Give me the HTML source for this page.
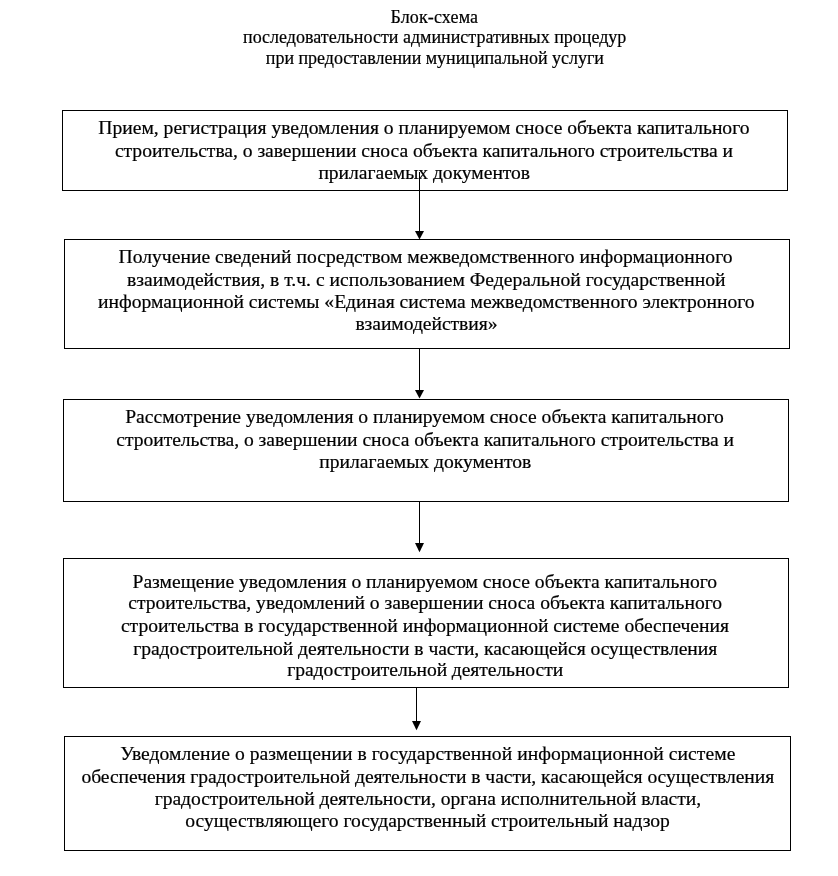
<!DOCTYPE html>
<html>
<head>
<meta charset="utf-8">
<style>
html,body{margin:0;padding:0;background:#fff;}
body{width:838px;height:876px;position:relative;overflow:hidden;filter:grayscale(1);font-family:"Liberation Serif",serif;color:#000;}
.l{position:absolute;white-space:nowrap;-webkit-text-stroke:0.2px #000;}
.box{position:absolute;border:1px solid #000;box-sizing:border-box;}
.ln{position:absolute;background:#000;width:1px;}
svg{position:absolute;left:0;top:0;}
</style>
</head>
<body>
<div class="l" style="left:390.44px;top:7px;font-size:18px;line-height:20px;letter-spacing:0.1397px">Блок-схема</div>
<div class="l" style="left:243.01px;top:27px;font-size:18px;line-height:20px;letter-spacing:0.0017px">последовательности административных процедур</div>
<div class="l" style="left:265.81px;top:48px;font-size:18px;line-height:20px;letter-spacing:-0.0270px">при предоставлении муниципальной услуги</div>
<div class="box" style="left:62px;top:110px;width:726px;height:81px"></div>
<div class="box" style="left:64px;top:239px;width:726px;height:110px"></div>
<div class="box" style="left:63px;top:399px;width:726px;height:103px"></div>
<div class="box" style="left:63px;top:558px;width:726px;height:130px"></div>
<div class="box" style="left:64px;top:736px;width:727px;height:115px"></div>
<div class="l" style="left:98.32px;top:117px;font-size:19.6px;line-height:22px;letter-spacing:-0.0070px">Прием, регистрация уведомления о планируемом сносе объекта капитального</div>
<div class="l" style="left:114.94px;top:140px;font-size:19.6px;line-height:22px;letter-spacing:-0.0324px">строительства, о завершении сноса объекта капитального строительства и</div>
<div class="l" style="left:318.40px;top:162px;font-size:19.6px;line-height:22px;letter-spacing:-0.0323px">прилагаемых документов</div>
<div class="l" style="left:118.52px;top:246px;font-size:19.6px;line-height:22px;letter-spacing:0.0104px">Получение сведений посредством межведомственного информационного</div>
<div class="l" style="left:127.00px;top:269px;font-size:19.6px;line-height:22px;letter-spacing:0.0166px">взаимодействия, в т.ч. с использованием Федеральной государственной</div>
<div class="l" style="left:98.10px;top:291px;font-size:19.6px;line-height:22px;letter-spacing:-0.0087px">информационной системы «Единая система межведомственного электронного</div>
<div class="l" style="left:355.40px;top:313px;font-size:19.6px;line-height:22px;letter-spacing:-0.0522px">взаимодействия»</div>
<div class="l" style="left:125.22px;top:406px;font-size:19.6px;line-height:22px;letter-spacing:-0.0100px">Рассмотрение уведомления о планируемом сносе объекта капитального</div>
<div class="l" style="left:116.24px;top:429px;font-size:19.6px;line-height:22px;letter-spacing:-0.0368px">строительства, о завершении сноса объекта капитального строительства и</div>
<div class="l" style="left:319.30px;top:451px;font-size:19.6px;line-height:22px;letter-spacing:-0.0180px">прилагаемых документов</div>
<div class="l" style="left:132.52px;top:571px;font-size:19.6px;line-height:22px;letter-spacing:-0.0050px">Размещение уведомления о планируемом сносе объекта капитального</div>
<div class="l" style="left:128.24px;top:592px;font-size:19.6px;line-height:22px;letter-spacing:-0.0277px">строительства, уведомлений о завершении сноса объекта капитального</div>
<div class="l" style="left:120.94px;top:615px;font-size:19.6px;line-height:22px;letter-spacing:-0.0109px">строительства в государственной информационной системе обеспечения</div>
<div class="l" style="left:133.20px;top:638px;font-size:19.6px;line-height:22px;letter-spacing:-0.0615px">градостроительной деятельности в части, касающейся осуществления</div>
<div class="l" style="left:287.30px;top:659px;font-size:19.6px;line-height:22px;letter-spacing:-0.0804px">градостроительной деятельности</div>
<div class="l" style="left:120.20px;top:743px;font-size:19.6px;line-height:22px;letter-spacing:0.0536px">Уведомление о размещении в государственной информационной системе</div>
<div class="l" style="left:81.44px;top:766px;font-size:19.6px;line-height:22px;letter-spacing:-0.0626px">обеспечения градостроительной деятельности в части, касающейся осуществления</div>
<div class="l" style="left:154.70px;top:788px;font-size:19.6px;line-height:22px;letter-spacing:-0.0620px">градостроительной деятельности, органа исполнительной власти,</div>
<div class="l" style="left:185.34px;top:810px;font-size:19.6px;line-height:22px;letter-spacing:-0.0220px">осуществляющего государственный строительный надзор</div>
<div class="ln" style="left:419px;top:172px;height:60px"></div>
<div class="ln" style="left:419px;top:349px;height:42px"></div>
<div class="ln" style="left:419px;top:502px;height:42px"></div>
<div class="ln" style="left:416px;top:688px;height:34px"></div>
<svg width="838" height="876">
<polygon points="415,231 424,231 419.5,239.5" fill="#000"/>
<polygon points="415,390 424,390 419.5,398.5" fill="#000"/>
<polygon points="415,543 424,543 419.5,552.3" fill="#000"/>
<polygon points="412,721 421,721 416.5,730.2" fill="#000"/>
</svg>
</body>
</html>
